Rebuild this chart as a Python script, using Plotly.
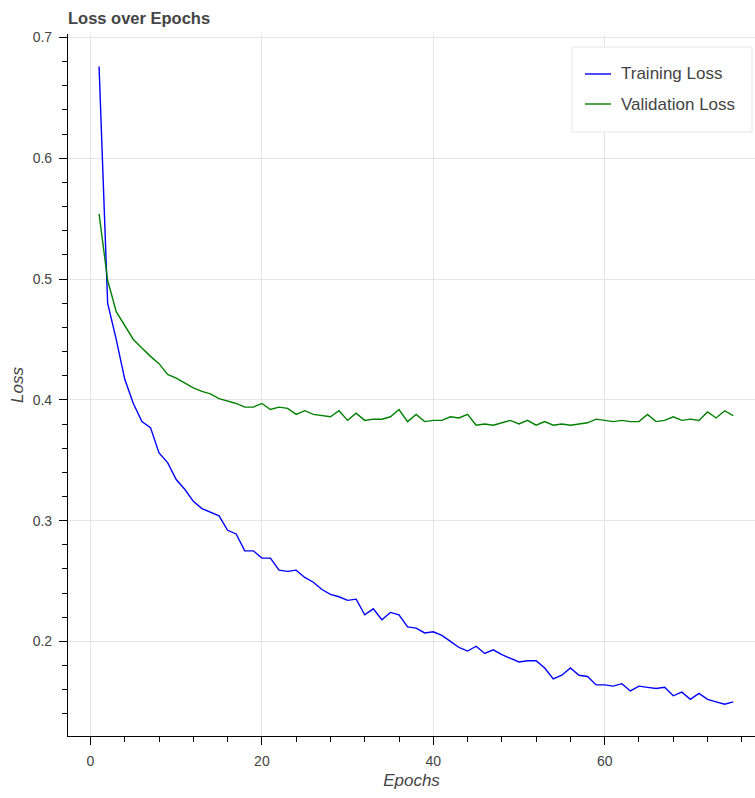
import plotly.graph_objects as go

# ---- data -----------------------------------------------------------------
epochs = list(range(1, 76))

training_loss = [
    0.676, 0.480, 0.450, 0.417, 0.397, 0.382, 0.377, 0.356, 0.348, 0.334,
    0.326, 0.316, 0.310, 0.307, 0.304, 0.292, 0.289, 0.275, 0.275, 0.269,
    0.269, 0.259, 0.258, 0.259, 0.253, 0.249, 0.243, 0.239, 0.237, 0.234,
    0.235, 0.222, 0.227, 0.218, 0.224, 0.222, 0.212, 0.211, 0.207, 0.208,
    0.205, 0.200, 0.195, 0.192, 0.196, 0.190, 0.193, 0.189, 0.186, 0.183,
    0.184, 0.184, 0.178, 0.169, 0.172, 0.178, 0.172, 0.171, 0.164, 0.164,
    0.163, 0.165, 0.159, 0.163, 0.162, 0.161, 0.162, 0.155, 0.158, 0.152,
    0.157, 0.152, 0.150, 0.148, 0.150,
]

validation_loss = [
    0.554, 0.499, 0.473, 0.461, 0.450, 0.443, 0.436, 0.430, 0.421, 0.418,
    0.414, 0.410, 0.407, 0.405, 0.401, 0.399, 0.397, 0.394, 0.394, 0.397,
    0.392, 0.394, 0.393, 0.388, 0.391, 0.388, 0.387, 0.386, 0.391, 0.383,
    0.389, 0.383, 0.384, 0.384, 0.386, 0.392, 0.382, 0.388, 0.382, 0.383,
    0.383, 0.386, 0.385, 0.388, 0.379, 0.380, 0.379, 0.381, 0.383, 0.380,
    0.383, 0.379, 0.382, 0.379, 0.380, 0.379, 0.380, 0.381, 0.384, 0.383,
    0.382, 0.383, 0.382, 0.382, 0.388, 0.382, 0.383, 0.386, 0.383, 0.384,
    0.383, 0.390, 0.385, 0.391, 0.387,
]

series_names = ["Training Loss", "Validation Loss"]
series_colors = ["#0000ff", "#008000"]

# ---- layout geometry --------------------------------------------------------
W, H = 755, 798
ML, MR, MT, MB = 68, 0, 34, 62
PW, PH = W - ML - MR, H - MT - MB

FONT = "Liberation Sans, Helvetica, Arial, sans-serif"
TEXT = "#444444"
GRID = "#e5e5e5"


def xp(px):
    return (px - ML) / PW


def yp(py):
    return (H - MB - py) / PH


fig = go.Figure()
for name, values, color in zip(series_names, [training_loss, validation_loss], series_colors):
    fig.add_trace(go.Scatter(
        x=epochs, y=values, mode="lines", name=name,
        line=dict(color=color, width=1.4), showlegend=False,
    ))

axis_common = dict(
    showline=True, linecolor="black", linewidth=1.2,
    ticks="outside", ticklen=8, tickwidth=1.2, tickcolor="black",
    gridcolor=GRID, gridwidth=1, zeroline=False,
    tickfont=dict(family=FONT, size=14, color=TEXT),
    ticklabelstandoff=4,
)

fig.update_xaxes(
    range=[-2.625, 77.54], dtick=20, tick0=0,
    minor=dict(dtick=4, tick0=0, ticks="outside", ticklen=5, tickcolor="black", showgrid=False),
    title=dict(text="<i>Epochs</i>", font=dict(family=FONT, size=17, color=TEXT), standoff=6),
    **axis_common,
)
fig.update_yaxes(
    range=[0.1217, 0.7029], dtick=0.1, tick0=0, tickformat=".1f",
    minor=dict(dtick=0.02, tick0=0, ticks="outside", ticklen=5, tickcolor="black", showgrid=False),
    title=dict(text="<i>Loss</i>", font=dict(family=FONT, size=17, color=TEXT), standoff=4),
    **axis_common,
)

# legend box, sample lines and labels
shapes = [
    dict(type="rect", xref="paper", yref="paper",
         x0=xp(572), x1=xp(752), y0=yp(132), y1=yp(47),
         fillcolor="rgba(255,255,255,0.95)", line=dict(color=GRID, width=1), layer="above"),
]
annotations = []
for i, (name, color) in enumerate(zip(series_names, series_colors)):
    cy = 74 + 30 * i
    shapes.append(dict(type="line", xref="paper", yref="paper",
                       x0=xp(585), x1=xp(611), y0=yp(cy), y1=yp(cy),
                       line=dict(color=color, width=1.4), layer="above"))
    annotations.append(dict(text=name, xref="paper", yref="paper",
                            x=xp(619), y=yp(cy), xanchor="left", yanchor="middle",
                            showarrow=False, font=dict(family=FONT, size=17, color=TEXT)))

fig.update_layout(
    width=W, height=H,
    margin=dict(l=ML, r=MR, t=MT, b=MB, autoexpand=False),
    paper_bgcolor="white", plot_bgcolor="white",
    title=dict(text="<b>Loss over Epochs</b>", xref="container", yref="container",
               x=ML / W, xanchor="left", y=1 - 18 / H, yanchor="middle",
               font=dict(family=FONT, size=16.5, color=TEXT)),
    shapes=shapes, annotations=annotations,
    showlegend=False,
)

fig.write_html("out.html")
